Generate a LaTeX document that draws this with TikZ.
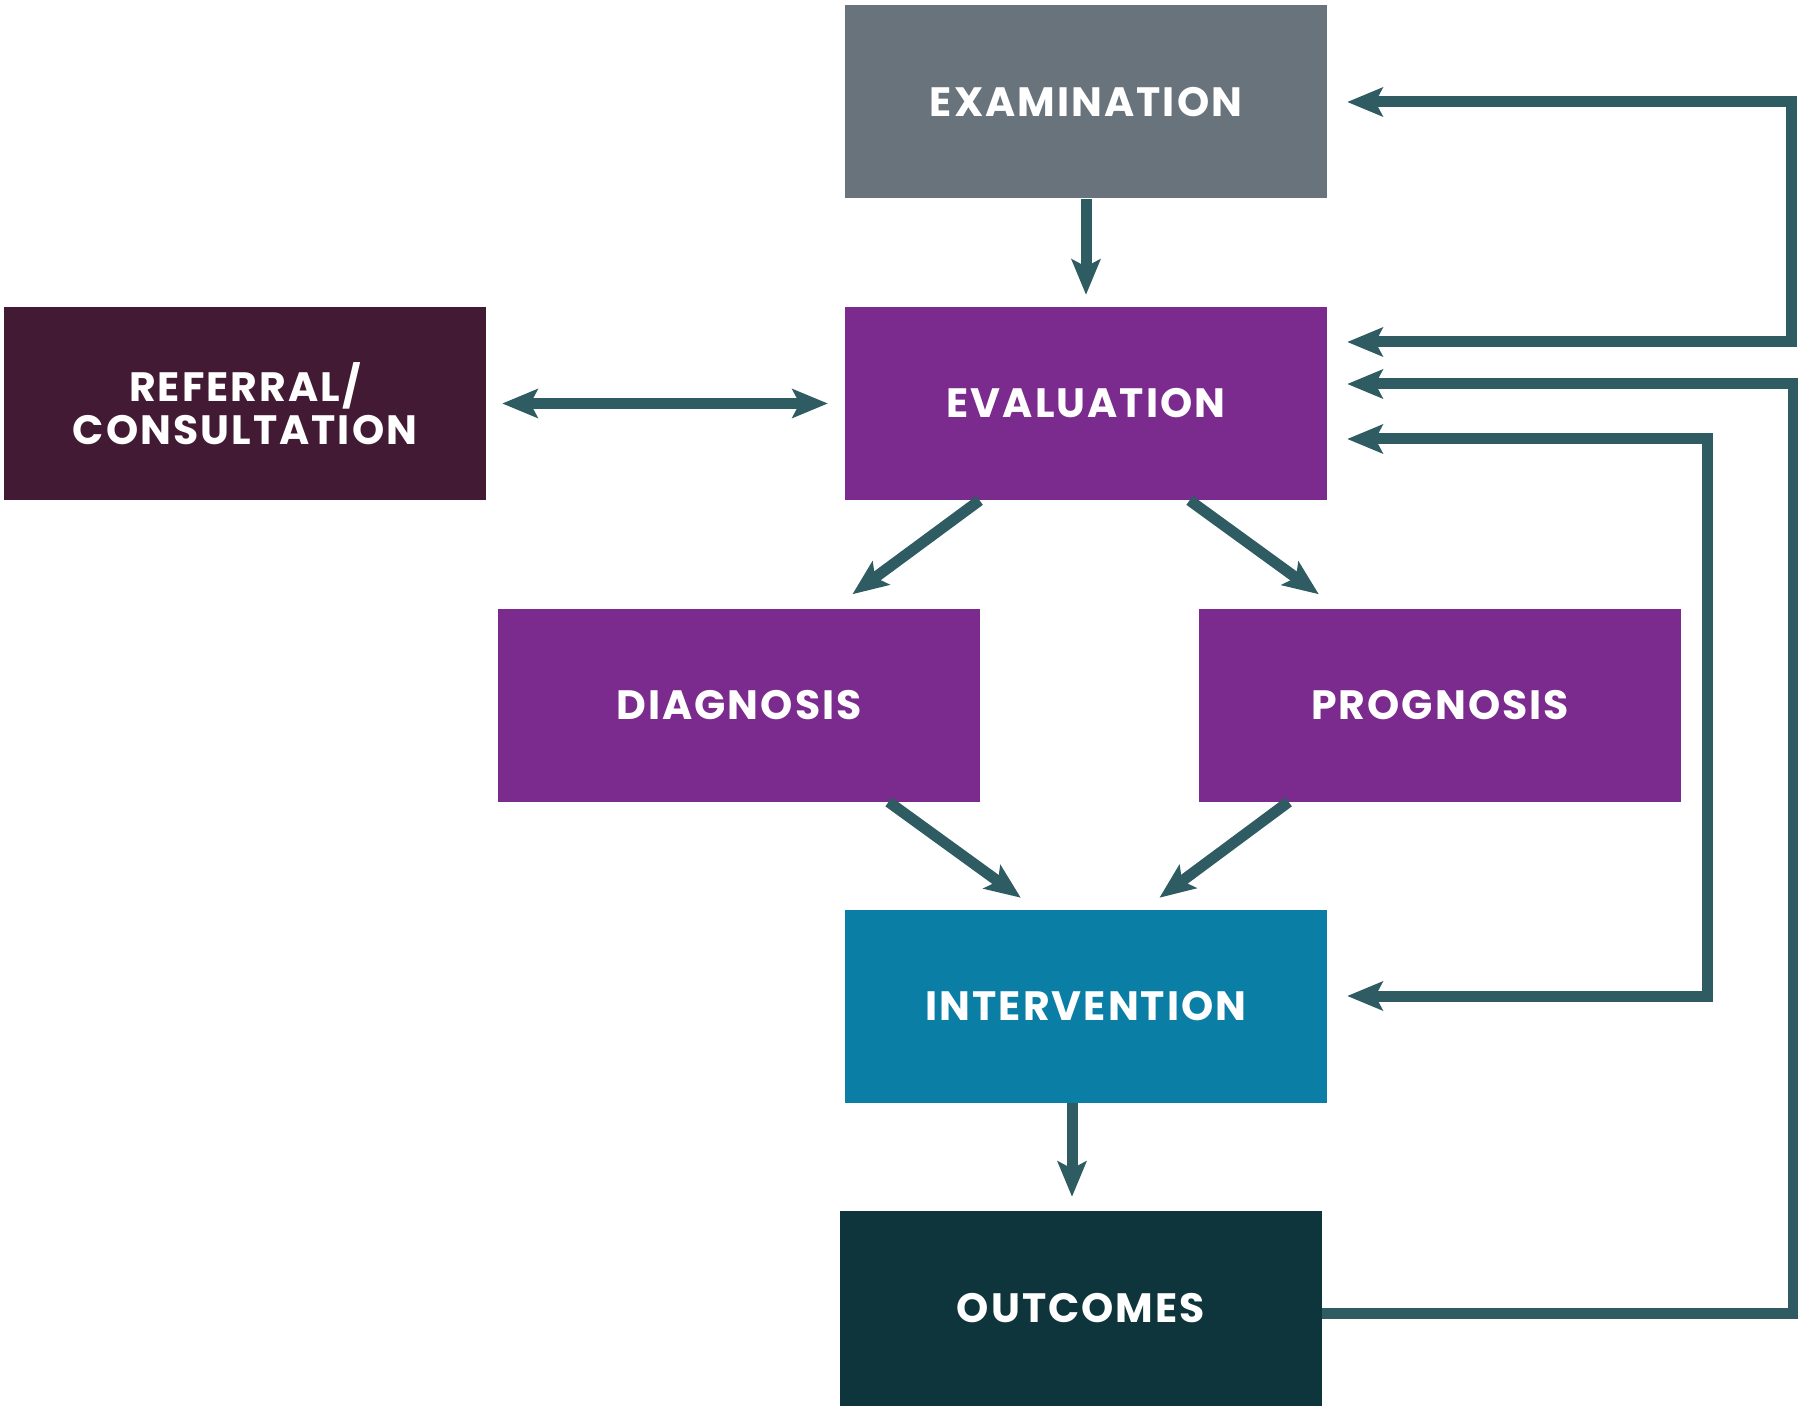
\documentclass[tikz,border=0pt]{standalone}
\usepackage{fontspec}
\setmainfont{Poppins}[LetterSpace=5]
\usetikzlibrary{arrows.meta,calc}
\definecolor{examc}{HTML}{68737B}
\definecolor{evalc}{HTML}{7B2A8D}
\definecolor{refc}{HTML}{421A34}
\definecolor{intc}{HTML}{0B7EA6}
\definecolor{outc}{HTML}{0E353B}
\definecolor{arrowc}{HTML}{2F5C62}
\begin{document}
\begin{tikzpicture}[x=0.5pt,y=-0.5pt,
  box/.style={rectangle, minimum width=241pt, minimum height=96.5pt, inner sep=0pt,
    text=white, font=\bfseries\fontsize{20.5}{21.5}\selectfont, align=center},
  tip/.tip={Stealth[length=18pt,width=15pt,inset=4pt,line width=0pt]},
  arr/.style={color=arrowc, line width=5.5pt, -tip},
  biarr/.style={color=arrowc, line width=5.5pt, tip-tip}
]
\useasboundingbox (0,0) rectangle (1798,1406);
\fill[white] (0,0) rectangle (1798,1406);

\node[box, fill=examc] (exam) at (1086,102) {EXAMINATION};
\node[box, fill=evalc] (eval) at (1086,403.5) {EVALUATION};
\node[box, fill=refc] (ref) at (245,403.5) {REFERRAL/\\CONSULTATION};
\node[box, fill=evalc] (diag) at (739,705) {DIAGNOSIS};
\node[box, fill=evalc] (prog) at (1440,705) {PROGNOSIS};
\node[box, fill=intc] (interv) at (1086,1006.5) {INTERVENTION};
\node[box, fill=outc, minimum height=97.5pt] (outc) at (1081,1308.5) {OUTCOMES};

% main flow
\draw[arr, shorten >=6pt] (exam.south) -- (eval.north);
\draw[biarr, shorten <=8pt, shorten >=8.5pt] (ref.east) -- (eval.west);
\draw[arr] ([xshift=67.5pt]eval.south west) -- ([xshift=177.5pt,yshift=7pt]diag.north west);
\draw[arr] ([xshift=172.5pt]eval.south west) -- ([xshift=60pt,yshift=7pt]prog.north west);
\draw[arr] ([xshift=195.5pt]diag.south west) -- ([xshift=88pt,yshift=6pt]interv.north west);
\draw[arr] ([xshift=45pt]prog.south west) -- ([xshift=157.5pt,yshift=6pt]interv.north west);
\draw[arr, shorten >=7pt] ([xshift=-7pt]interv.south) -- ([xshift=-7pt]interv.south |- outc.north);

% feedback loops
\draw[biarr, shorten <=10pt, shorten >=10pt] (exam.east) -- ++(232pt,0) |- ([yshift=30.75pt]eval.east);
\draw[arr, shorten >=10pt] ([yshift=-2.25pt]outc.east) -- ++(235.5pt,0) |- ([yshift=9.75pt]eval.east);
\draw[biarr, shorten <=10pt, shorten >=10pt] ([yshift=-17.75pt]eval.east) -- ++(190pt,0) |- ([yshift=5.25pt]interv.east);
\end{tikzpicture}
\end{document}
